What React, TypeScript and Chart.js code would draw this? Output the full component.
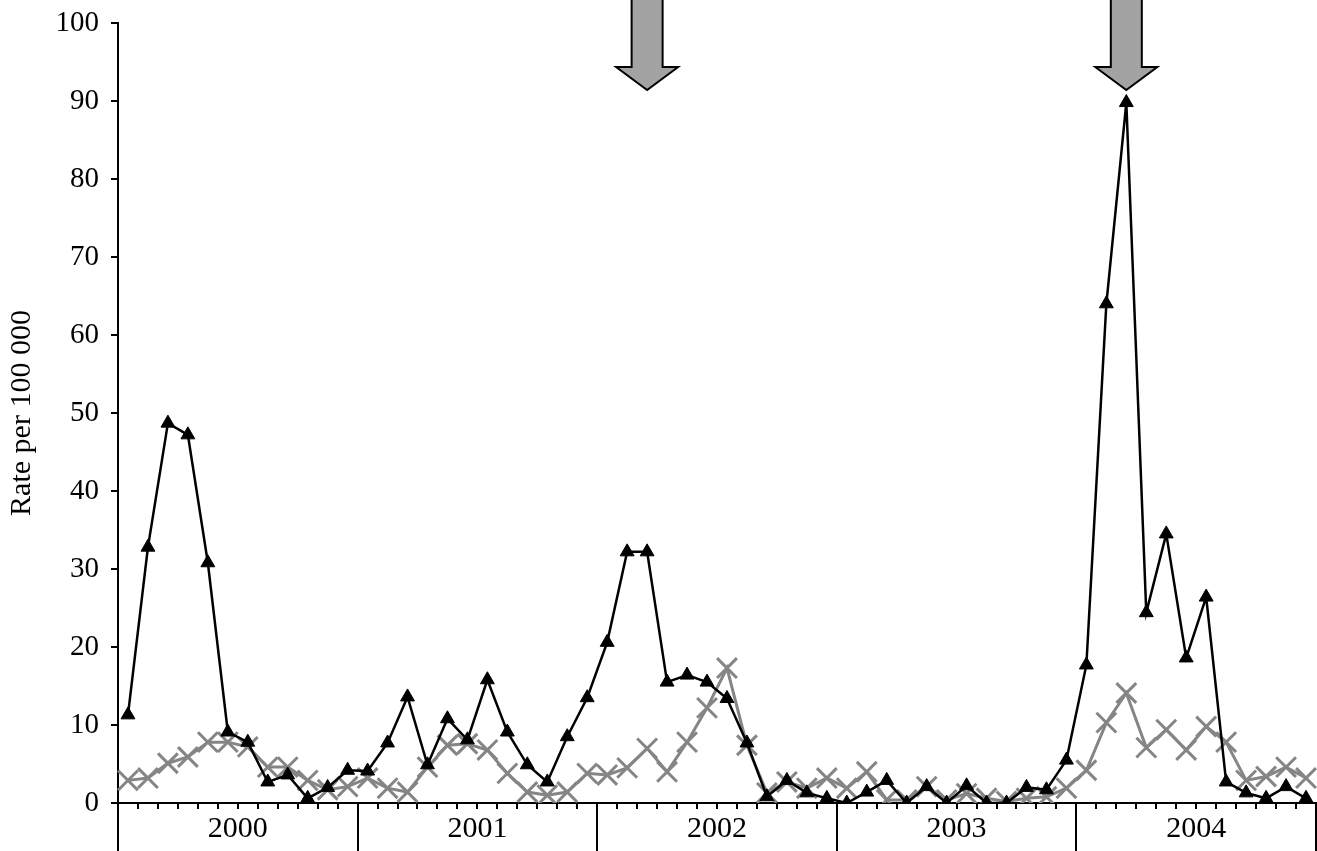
import React, { useEffect, useRef } from "react";
import { Chart, registerables } from "chart.js";

Chart.register(...registerables);

const years = ["2000", "2001", "2002", "2003", "2004"];
const monthsPerYear = 12;

const blackSeries = [
  11.3, 32.8, 48.7, 47.2, 30.8, 9.1, 7.8, 2.7, 3.6, 0.6, 2.0, 4.2,
  4.1, 7.7, 13.6, 4.9, 10.8, 8.1, 15.8, 9.1, 4.9, 2.7, 8.5, 13.5,
  20.6, 32.2, 32.2, 15.5, 16.4, 15.5, 13.4, 7.7, 0.8, 2.9, 1.3, 0.6,
  0.0, 1.4, 2.9, 0.0, 2.1, 0.0, 2.2, 0.0, 0.0, 2.0, 1.7, 5.5,
  17.7, 64.0, 89.8, 24.4, 34.5, 18.6, 26.4, 2.7, 1.3, 0.6, 2.1, 0.6,
];

const graySeries = [
  2.9, 3.2, 5.1, 5.9, 7.8, 7.8, 7.2, 4.6, 4.6, 2.9, 1.7, 2.1,
  3.2, 1.9, 1.4, 4.6, 7.4, 7.6, 6.8, 3.8, 1.4, 1.0, 1.4, 3.8,
  3.6, 4.5, 7.0, 4.0, 7.8, 12.2, 17.3, 7.4, 1.3, 2.7, 1.9, 3.2,
  1.9, 4.0, 0.4, 0.4, 2.1, 0.4, 1.2, 0.6, 0.2, 0.6, 0.8, 1.9,
  4.2, 10.3, 14.1, 7.1, 9.4, 6.8, 9.8, 7.8, 2.9, 3.4, 4.6, 3.2,
];

const arrowIndices = [26, 50];

const yTicks = [0, 10, 20, 30, 40, 50, 60, 70, 80, 90, 100];

const labels = years.flatMap((y) =>
  Array.from({ length: monthsPerYear }, (_, m) => `${y}-${m + 1}`)
);

const FONT = "'Liberation Serif', 'Times New Roman', serif";

const axisDecorPlugin = {
  id: "axisDecor",
  afterDraw(chart: any) {
    const ctx = chart.ctx;
    const xs = chart.scales.x;
    const area = chart.chartArea;
    const p0 = xs.getPixelForValue(0);
    const step = xs.getPixelForValue(1) - p0;
    const start = p0 - step / 2;
    const n = labels.length;
    ctx.save();
    ctx.strokeStyle = "#000";
    ctx.lineWidth = 2;
    for (let k = 0; k <= n; k++) {
      const x = Math.round(start + k * step);
      ctx.beginPath();
      ctx.moveTo(x, area.bottom);
      ctx.lineTo(x, k % monthsPerYear === 0 ? chart.height : area.bottom + 6);
      ctx.stroke();
    }
    ctx.fillStyle = "#000";
    ctx.font = `30px ${FONT}`;
    ctx.textAlign = "center";
    ctx.textBaseline = "middle";
    years.forEach((y, i) => {
      const cx = start + (i * monthsPerYear + monthsPerYear / 2) * step;
      ctx.fillText(y, cx, area.bottom + 26);
    });
    // arrows
    ctx.fillStyle = "#a3a3a3";
    ctx.strokeStyle = "#000";
    ctx.lineWidth = 2;
    ctx.lineJoin = "miter";
    arrowIndices.forEach((idx) => {
      const cx = xs.getPixelForValue(idx);
      const sw = 15.5;
      const hw = 31;
      const headY = 67;
      const tipY = 90;
      ctx.beginPath();
      ctx.moveTo(cx - sw, -2);
      ctx.lineTo(cx - sw, headY);
      ctx.lineTo(cx - hw, headY);
      ctx.lineTo(cx, tipY);
      ctx.lineTo(cx + hw, headY);
      ctx.lineTo(cx + sw, headY);
      ctx.lineTo(cx + sw, -2);
      ctx.closePath();
      ctx.fill();
      ctx.stroke();
    });
    ctx.restore();
  },
};

export default function App() {
  const ref = useRef<HTMLCanvasElement | null>(null);
  useEffect(() => {
    if (!ref.current) return;
    const chart = new Chart(ref.current, {
      type: "line",
      data: {
        labels,
        datasets: [
          {
            label: "Gray",
            data: graySeries,
            borderColor: "#858585",
            backgroundColor: "#858585",
            borderWidth: 3,
            pointStyle: "crossRot",
            pointRadius: 14,
            pointBorderWidth: 3,
            pointBorderColor: "#858585",
            tension: 0,
            order: 2,
          },
          {
            label: "Black",
            data: blackSeries,
            borderColor: "#000",
            backgroundColor: "#000",
            borderWidth: 2.5,
            pointStyle: "triangle",
            pointRadius: 8,
            pointBorderWidth: 1,
            tension: 0,
            order: 1,
          },
        ],
      },
      options: {
        responsive: false,
        animation: false,
        layout: { autoPadding: false, padding: { top: 23, right: 1, left: 0, bottom: 0 } },
        plugins: { legend: { display: false }, tooltip: { enabled: false } },
        elements: { line: { borderJoinStyle: "miter" } },
        scales: {
          x: {
            type: "category",
            offset: true,
            ticks: { display: false },
            grid: { display: false },
            border: { display: true, color: "#000", width: 2 },
            afterFit: (s: any) => {
              s.height = 48;
              s.paddingLeft = 0;
              s.paddingRight = 0;
            },
          },
          y: {
            min: 0,
            max: 100,
            afterBuildTicks: (s: any) => {
              s.ticks = yTicks.map((v) => ({ value: v }));
            },
            ticks: {
              color: "#000",
              padding: 12,
              font: { family: FONT, size: 29 },
            },
            grid: {
              drawOnChartArea: false,
              drawTicks: true,
              tickLength: 7,
              color: "#000",
              lineWidth: 2,
            },
            border: { display: true, color: "#000", width: 2 },
            title: {
              display: true,
              text: "Rate per 100 000",
              color: "#000",
              font: { family: FONT, size: 30 },
              padding: { top: 4, bottom: 0 },
            },
            afterFit: (s: any) => {
              s.width = 118;
              s.paddingTop = 0;
              s.paddingBottom = 0;
            },
          },
        },
      },
      plugins: [axisDecorPlugin],
    });
    return () => chart.destroy();
  }, []);
  return (
    <div style={{ position: "absolute", left: 0, top: 0, width: 1317, height: 851, background: "#fff" }}>
      <canvas ref={ref} width={1317} height={851} style={{ display: "block" }} />
    </div>
  );
}
